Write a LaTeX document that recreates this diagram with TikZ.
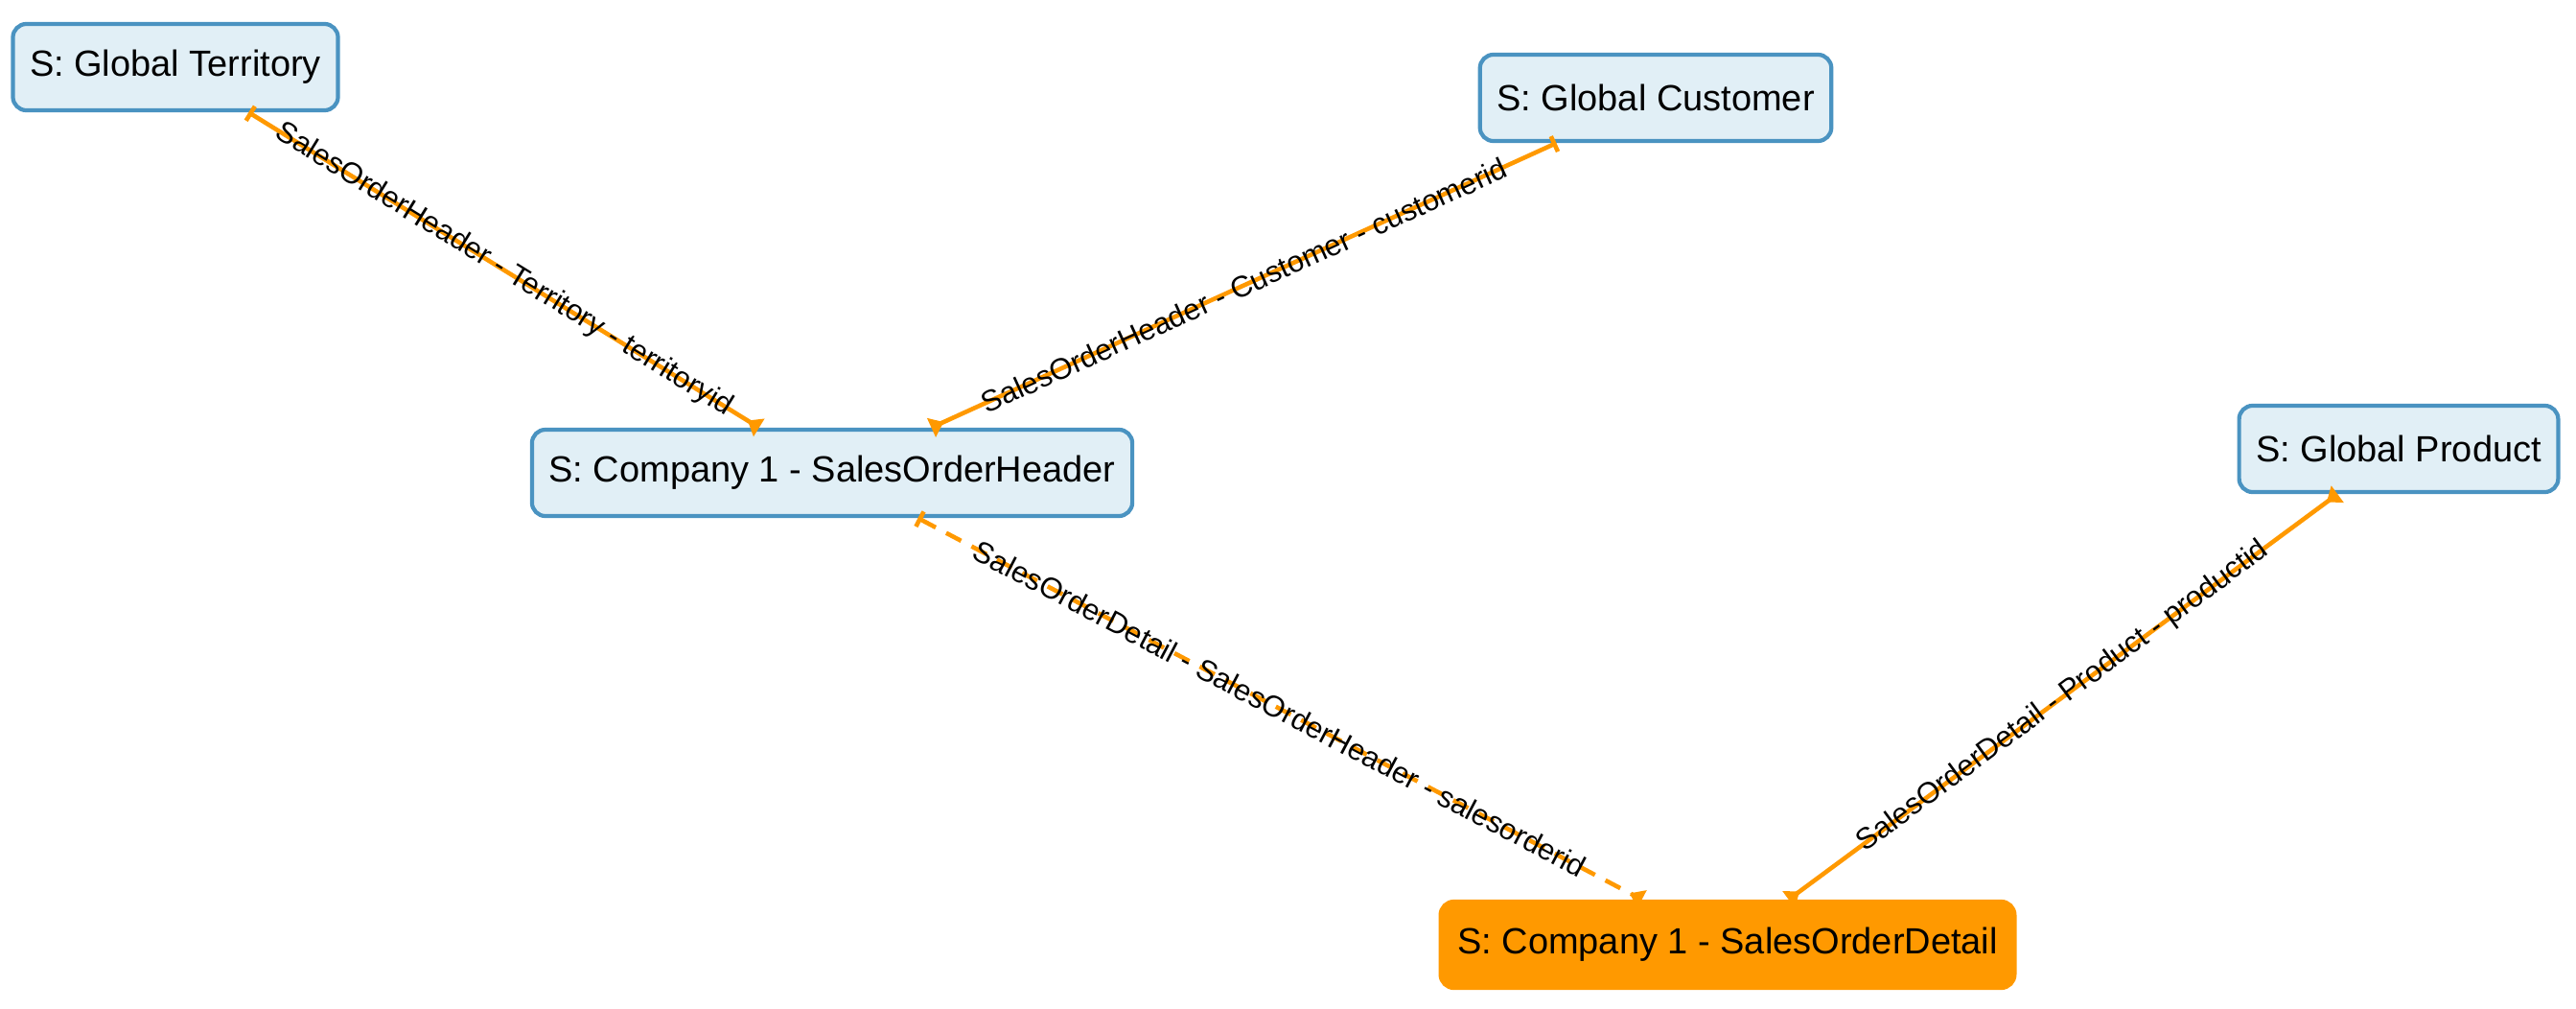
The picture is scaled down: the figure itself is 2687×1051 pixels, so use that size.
\documentclass[tikz,border=0pt]{standalone}
\usepackage{fontspec}
\setmainfont{Liberation Sans}
\usepackage{xcolor}
\usepackage{tikz}
\usetikzlibrary{arrows.meta}

\definecolor{tablefill}{HTML}{E1EFF6}
\definecolor{tableline}{HTML}{4A93C1}
\definecolor{linkorange}{HTML}{FF9900}

\begin{document}
\begin{tikzpicture}%
                    [x=0.01cm,
                    y=-0.01cm,
                    table/.style={draw=tableline, fill=tablefill, line width=1.2pt, rounded corners=4pt,
                                  inner xsep=5pt, inner ysep=2pt, minimum height=0.9cm,
                                  font=\fontsize{10.8}{13}\selectfont},
                    current/.style={table, draw=linkorange, fill=linkorange},
                    link/.style={color=linkorange, line width=1.3pt,
                                 {Bar[width=5pt,line width=1.3pt]}-{Triangle[reversed,length=4pt,width=6pt]}},
                    link2/.style={color=linkorange, line width=1.3pt,
                                 {Triangle[reversed,length=4pt,width=6pt]}-{Triangle[reversed,length=4pt,width=6pt]}},
                    optional/.style={link, dash pattern=on 5pt off 3.5pt},
                    key/.style={sloped, midway, text=black, inner sep=0pt,
                                font=\fontsize{8.8}{10}\selectfont}]

                \useasboundingbox (0,0) rectangle (2687,1051);
                %%
                %% Drawing the tables
                %%
                \node[table] (territory) at (183, 70)  {S: Global Territory};
                \node[table] (customer)  at (1727,102) {S: Global Customer};
                \node[table] (header)    at (868, 493) {S: Company 1 - SalesOrderHeader};
                \node[table] (product)   at (2502,468) {S: Global Product};
                \node[current] (detail)  at (1802,985) {S: Company 1 - SalesOrderDetail};
                %%
                %% Drawing the keys
                %%
                \draw[link] (territory) -- (header) node[key] {SalesOrderHeader - Territory - territoryid};
                \draw[link] (customer) -- (header) node[key] {SalesOrderHeader - Customer - customerid};
                \draw[optional] (header) -- (detail) node[key] {SalesOrderDetail - SalesOrderHeader - salesorderid};
                \draw[link2] (product) -- (detail) node[key] {SalesOrderDetail - Product - productid};
                %%
                %%
                \end{tikzpicture}
\end{document}
